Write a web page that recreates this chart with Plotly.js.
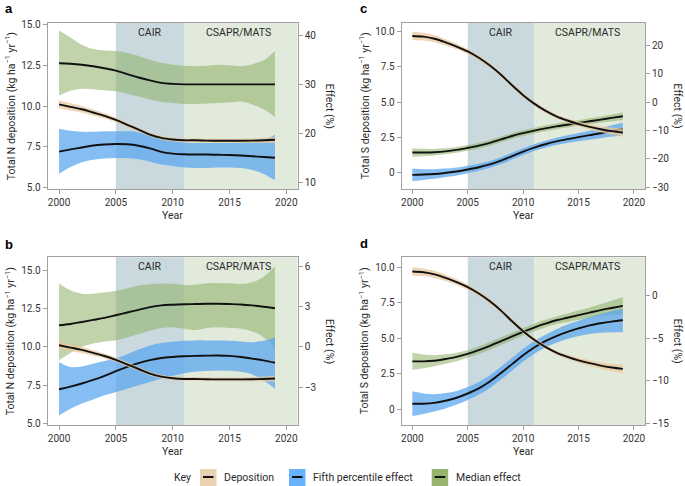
<!DOCTYPE html>
<html>
<head>
<meta charset="utf-8">
<script src="https://cdn.plot.ly/plotly-3.0.1.min.js"></script>
<style>html,body{margin:0;padding:0;background:#fff;}#chart{width:685px;height:486px;}</style>
</head>
<body>
<div id="chart"></div>
<script>
// ---------------- data ----------------
const years = [2000,2001,2002,2003,2004,2005,2006,2007,2008,2009,2010,2011,2012,2013,2014,2015,2016,2017,2018,2019];

// Total N deposition (kg ha-1 yr-1) and band half-width (panels a, b)
const depN    = [10.1,9.95,9.8,9.6,9.4,9.15,8.85,8.55,8.25,8.05,7.95,7.9,7.9,7.88,7.87,7.87,7.87,7.88,7.9,7.93];
const depNErr = [0.25,0.22,0.2,0.18,0.16,0.15,0.14,0.13,0.12,0.12,0.12,0.12,0.12,0.12,0.12,0.12,0.13,0.14,0.16,0.2];
// Total S deposition (panels c, d)
const depS    = [9.7,9.65,9.5,9.25,8.95,8.6,8.15,7.6,6.95,6.2,5.5,4.9,4.4,4.0,3.7,3.45,3.25,3.08,2.95,2.85];
const depSErr = [0.3,0.27,0.25,0.22,0.2,0.18,0.17,0.16,0.15,0.15,0.15,0.15,0.15,0.15,0.16,0.18,0.2,0.22,0.26,0.3];

// Panel a effects (%)
const aMedian   = [34.4,34.3,34.1,33.8,33.4,32.9,32.2,31.5,30.9,30.4,30.2,30.1,30.1,30.1,30.1,30.1,30.1,30.1,30.1,30.1];
const aMedianHi = [41.1,39.7,38.2,37.3,37.0,36.9,36.5,35.9,35.1,34.5,34.1,33.9,33.8,33.9,34.1,34.0,33.8,34.2,35.0,36.9];
const aMedianLo = [27.8,28.8,29.2,29.1,28.9,28.7,28.2,27.6,27.0,26.5,26.3,26.1,26.1,26.2,26.3,26.4,26.6,26.0,25.0,23.4];
const aFifth    = [16.35,16.8,17.2,17.6,17.8,17.9,17.85,17.55,17.0,16.3,15.95,15.8,15.75,15.75,15.7,15.65,15.55,15.4,15.25,15.1];
const aFifthHi  = [21.0,20.6,20.4,20.4,20.5,20.5,20.5,20.3,19.6,18.9,18.5,18.2,18.1,18.1,18.1,18.1,18.2,18.4,18.8,19.8];
const aFifthLo  = [11.8,13.2,14.2,14.7,14.95,15.05,15.0,14.8,14.3,13.7,13.4,13.1,13.0,13.0,13.1,13.1,13.0,12.6,11.8,10.5];

// Panel b effects (%)
const bMedian   = [1.6,1.7,1.85,2.0,2.15,2.35,2.55,2.75,2.95,3.08,3.13,3.16,3.18,3.2,3.2,3.18,3.15,3.08,2.98,2.87];
const bMedianHi = [4.7,4.2,3.95,3.95,4.05,4.15,4.35,4.55,4.65,4.7,4.68,4.6,4.62,4.72,4.75,4.72,4.68,4.8,5.2,6.0];
const bMedianLo = [-1.0,-0.45,0.0,0.25,0.4,0.5,0.7,0.95,1.2,1.4,1.45,1.35,1.25,1.4,1.45,1.4,1.35,1.15,0.7,-0.15];
const bFifth    = [-3.15,-2.95,-2.72,-2.45,-2.15,-1.8,-1.48,-1.2,-0.98,-0.83,-0.75,-0.7,-0.67,-0.65,-0.64,-0.67,-0.75,-0.87,-1.0,-1.18];
const bFifthHi  = [-1.15,-1.5,-1.45,-1.25,-1.05,-0.85,-0.55,-0.2,0.1,0.28,0.38,0.45,0.48,0.48,0.47,0.45,0.4,0.35,0.45,0.7];
const bFifthLo  = [-5.1,-4.6,-4.2,-3.9,-3.6,-3.35,-3.1,-2.85,-2.6,-2.35,-2.15,-1.95,-1.85,-1.8,-1.75,-1.78,-1.85,-2.05,-2.5,-3.1];

// Panel c effects (%) with band half-widths
const cMedian    = [-17.7,-17.7,-17.6,-17.3,-16.8,-16.1,-15.3,-14.3,-13.1,-11.9,-10.9,-10.0,-9.2,-8.5,-7.9,-7.3,-6.7,-6.1,-5.5,-4.9];
const cMedianErr = [1.5,1.3,1.15,1.05,1.0,1.0,1.0,1.0,1.0,1.0,1.0,1.0,1.0,1.0,1.0,1.0,1.05,1.1,1.2,1.3];
const cFifth     = [-25.6,-25.5,-25.3,-24.9,-24.4,-23.7,-22.9,-21.9,-20.6,-19.0,-17.4,-16.0,-14.8,-13.8,-13.0,-12.3,-11.6,-10.9,-10.1,-9.4];
const cFifthErr  = [2.2,1.9,1.7,1.5,1.4,1.3,1.25,1.2,1.2,1.2,1.2,1.2,1.25,1.3,1.35,1.45,1.6,1.8,2.0,2.2];

// Panel d effects (%) with band half-widths
const dMedian    = [-7.72,-7.72,-7.65,-7.45,-7.2,-6.85,-6.4,-5.9,-5.35,-4.8,-4.25,-3.75,-3.3,-2.9,-2.6,-2.3,-2.0,-1.7,-1.45,-1.2];
const dMedianErr = [1.0,0.8,0.65,0.55,0.5,0.45,0.45,0.45,0.45,0.45,0.45,0.45,0.45,0.45,0.5,0.55,0.6,0.7,0.85,1.0];
const dFifth     = [-12.7,-12.7,-12.6,-12.35,-12.0,-11.5,-10.9,-10.1,-9.1,-8.05,-7.0,-6.1,-5.35,-4.75,-4.25,-3.85,-3.5,-3.25,-3.05,-2.9];
const dFifthErr  = [1.45,1.2,1.0,0.9,0.8,0.75,0.75,0.75,0.75,0.75,0.75,0.75,0.75,0.8,0.85,0.9,1.0,1.1,1.25,1.4];

// Policy periods
const periodNames = ['CAIR', 'CSAPR/MATS'];
const periodStart = [2005, 2011];
const periodEnd   = [2011, 2021];
const periodLabelX = [2008, 2015.8];

// Tick labels
const xTicks = [2000, 2005, 2010, 2015, 2020];
const depNTicks = [5, 7.5, 10, 12.5, 15];
const depNTickText = ['5.0', '7.5', '10.0', '12.5', '15.0'];
const depSTicks = [0, 2.5, 5, 7.5, 10];
const depSTickText = ['0', '2.5', '5.0', '7.5', '10.0'];
const effTicksA = [10, 20, 30, 40];
const effTicksB = [-3, 0, 3, 6];
const effTicksC = [-30, -20, -10, 0, 10, 20];
const effTicksD = [-15, -10, -5, 0];

const legendLabels = ['Deposition', 'Fifth percentile effect', 'Median effect'];

// ---------------- styles ----------------
const W = 685, H = 486;
const FONT = 'Roboto, "Open Sans", sans-serif';
const TXT = '#2a2a2a';
const AXC = '#a0a0a0';
const C_DEP = 'rgba(232,200,158,0.75)';
const C_FIFTH = 'rgba(88,165,240,0.72)';
const C_MED = 'rgba(140,175,100,0.55)';
const C_CAIR = '#c9d9dd';
const C_CSAPR = '#e1eadb';
const SW_DEP = '#ead2b0', SW_FIFTH = '#66b2ff', SW_MED = '#96b46e';

const px = v => v / W;
const py = v => 1 - v / H;

const panels = [
  {letter:'a', dep:depN, depErr:depNErr, med:aMedian, medLo:aMedianLo, medHi:aMedianHi, fif:aFifth, fifLo:aFifthLo, fifHi:aFifthHi,
   xr:[1999, 2021], x0:47.7, x1:297.7, y0:22.7, y1:189.3, depRange:[4.9, 15.1], effRange:[8.65, 42.7],
   depTicks:depNTicks, depText:depNTickText, effTicks:effTicksA, depTitle:'Total N deposition (kg ha<sup>−1</sup> yr<sup>−1</sup>)', lx:3, ly:9},
  {letter:'b', dep:depN, depErr:depNErr, med:bMedian, medLo:bMedianLo, medHi:bMedianHi, fif:bFifth, fifLo:bFifthLo, fifHi:bFifthHi,
   xr:[1999, 2021], x0:47.7, x1:297.7, y0:257.3, y1:425, depRange:[4.89, 15.85], effRange:[-5.8, 6.65],
   depTicks:depNTicks, depText:depNTickText, effTicks:effTicksB, depTitle:'Total N deposition (kg ha<sup>−1</sup> yr<sup>−1</sup>)', lx:3, ly:244},
  {letter:'c', dep:depS, depErr:depSErr, med:cMedian, medErr:cMedianErr, fif:cFifth, fifErr:cFifthErr,
   xr:[1999.04, 2021], x0:401.7, x1:645, y0:22.7, y1:189.3, depRange:[-1.18, 10.64], effRange:[-30.7, 28.1],
   depTicks:depSTicks, depText:depSTickText, effTicks:effTicksC, depTitle:'Total S deposition (kg ha<sup>−1</sup> yr<sup>−1</sup>)', lx:358, ly:9},
  {letter:'d', dep:depS, depErr:depSErr, med:dMedian, medErr:dMedianErr, fif:dFifth, fifErr:dFifthErr,
   xr:[1999.04, 2021], x0:401.7, x1:645, y0:257.3, y1:425, depRange:[-1.1, 10.7], effRange:[-15.2, 4.5],
   depTicks:depSTicks, depText:depSTickText, effTicks:effTicksD, depTitle:'Total S deposition (kg ha<sup>−1</sup> yr<sup>−1</sup>)', lx:358, ly:243}
];

// band = lower edge (invisible) + upper edge filled down to it
function band(x, lo, hi, color, xa, ya) {
  const base = {x:x, type:'scatter', mode:'lines', hoverinfo:'skip', showlegend:false, xaxis:xa, yaxis:ya,
    line:{width:0, shape:'spline', smoothing:1, color:'rgba(0,0,0,0)'}};
  return [Object.assign({}, base, {y:lo}), Object.assign({}, base, {y:hi, fill:'tonexty', fillcolor:color})];
}
function line(x, y, xa, ya) {
  return {x:x, y:y, type:'scatter', mode:'lines', line:{color:'#111', width:1.9, shape:'spline', smoothing:1},
    showlegend:false, hoverinfo:'skip', xaxis:xa, yaxis:ya};
}
const sub = (a, e) => a.map((v, i) => v - e[i]);
const add = (a, e) => a.map((v, i) => v + e[i]);

const traces = [];
const layout = {
  width: W, height: H, margin:{l:0, r:0, t:0, b:0},
  paper_bgcolor:'#fff', plot_bgcolor:'rgba(0,0,0,0)', showlegend:false,
  font:{family:FONT, size:10, color:TXT},
  shapes:[], annotations:[]
};
const tickfont = {family:FONT, size:10, color:'#333'};

panels.forEach((p, i) => {
  const n = i + 1;
  const xa = 'x' + (n === 1 ? '' : n);
  const yeff = 'y' + (2 * n - 1 === 1 ? '' : 2 * n - 1);
  const ydep = 'y' + (2 * n);
  const xKey = 'xaxis' + (n === 1 ? '' : n);
  const yeffKey = 'yaxis' + (2 * n - 1 === 1 ? '' : 2 * n - 1);
  const ydepKey = 'yaxis' + (2 * n);
  const xdom = [px(p.x0), px(p.x1)];
  const ydom = [py(p.y1), py(p.y0)];

  layout[xKey] = {domain:xdom, range:p.xr, anchor:yeff, tickvals:xTicks, ticks:'outside', ticklen:4, tickcolor:AXC,
    showline:true, linecolor:AXC, linewidth:1, mirror:true, showgrid:false, zeroline:false, tickfont:tickfont, fixedrange:true};
  layout[yeffKey] = {domain:ydom, range:p.effRange, anchor:xa, side:'right', tickvals:p.effTicks, ticks:'outside', ticklen:4,
    tickcolor:AXC, showline:true, linecolor:AXC, linewidth:1, showgrid:false, zeroline:false, tickfont:tickfont};
  layout[ydepKey] = {domain:ydom, range:p.depRange, anchor:xa, overlaying:yeff, side:'left', tickvals:p.depTicks, ticktext:p.depText,
    ticks:'outside', ticklen:4, tickcolor:AXC, showline:true, linecolor:AXC, linewidth:1, showgrid:false, zeroline:false, tickfont:tickfont};

  const cols = [C_CAIR, C_CSAPR];
  periodNames.forEach((nm, k) => {
    layout.shapes.push({type:'rect', xref:xa, yref:yeff + ' domain', x0:periodStart[k], x1:periodEnd[k], y0:0, y1:1,
      fillcolor:cols[k], line:{width:0}, layer:'below'});
    layout.annotations.push({xref:xa, yref:yeff + ' domain', x:periodLabelX[k], y:1, yanchor:'top', yshift:-1, showarrow:false,
      text:nm, font:{family:FONT, size:10.5, color:TXT}});
  });

  const medLo = p.medLo || sub(p.med, p.medErr), medHi = p.medHi || add(p.med, p.medErr);
  const fifLo = p.fifLo || sub(p.fif, p.fifErr), fifHi = p.fifHi || add(p.fif, p.fifErr);
  traces.push(...band(years, medLo, medHi, C_MED, xa, yeff));
  traces.push(...band(years, fifLo, fifHi, C_FIFTH, xa, yeff));
  traces.push(line(years, p.med, xa, yeff));
  traces.push(line(years, p.fif, xa, yeff));
  traces.push(...band(years, sub(p.dep, p.depErr), add(p.dep, p.depErr), C_DEP, xa, ydep));
  traces.push(line(years, p.dep, xa, ydep));

  const cy = (p.y0 + p.y1) / 2;
  layout.annotations.push({xref:'paper', yref:'paper', x:px(p.x0 - 37.5), y:py(cy), xanchor:'center', yanchor:'middle',
    textangle:-90, showarrow:false, text:p.depTitle, font:{family:FONT, size:10.5, color:TXT}});
  layout.annotations.push({xref:'paper', yref:'paper', x:px(p.x1 + 32.5), y:py(cy), xanchor:'center', yanchor:'middle',
    textangle:90, showarrow:false, text:'Effect (%)', font:{family:FONT, size:10.5, color:TXT}});
  layout.annotations.push({xref:'paper', yref:'paper', x:px((p.x0 + p.x1) / 2), y:py(p.y1 + 26), xanchor:'center', yanchor:'middle',
    showarrow:false, text:'Year', font:{family:FONT, size:10.5, color:TXT}});
  layout.annotations.push({xref:'paper', yref:'paper', x:px(p.lx), y:py(p.ly), xanchor:'left', yanchor:'middle',
    showarrow:false, text:'<b>' + p.letter + '</b>', font:{family:'"Liberation Sans", Arial, sans-serif', size:13, color:'#000'}});
});

// key (legend)
layout.annotations.push({xref:'paper', yref:'paper', x:px(182), y:py(477), xanchor:'center', yanchor:'middle', showarrow:false,
  text:'Key', font:{family:FONT, size:10.5, color:TXT}});
const swX = [200, 289, 431.7];
const swC = [SW_DEP, SW_FIFTH, SW_MED];
legendLabels.forEach((lab, k) => {
  layout.shapes.push({type:'rect', xref:'paper', yref:'paper', x0:px(swX[k]), x1:px(swX[k] + 16.5), y0:py(486), y1:py(469),
    fillcolor:swC[k], line:{width:0}});
  layout.shapes.push({type:'line', xref:'paper', yref:'paper', x0:px(swX[k] + 3), x1:px(swX[k] + 13.5), y0:py(477), y1:py(477),
    line:{color:'#111', width:2}});
  layout.annotations.push({xref:'paper', yref:'paper', x:px(swX[k] + 22), y:py(477), xanchor:'left', yanchor:'middle', showarrow:false,
    text:lab, font:{family:FONT, size:10.5, color:TXT}});
});

Plotly.newPlot('chart', traces, layout, {staticPlot:true, displayModeBar:false});
</script>
</body>
</html>
